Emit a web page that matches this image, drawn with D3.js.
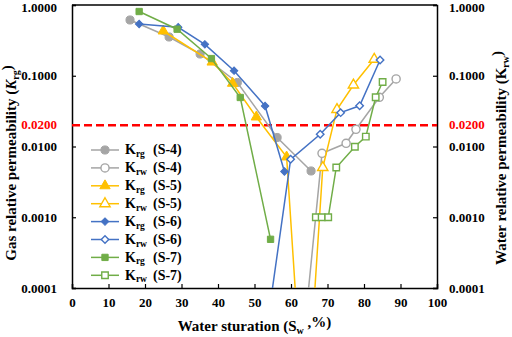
<!DOCTYPE html>
<html>
<head>
<meta charset="utf-8">
<script src="https://cdn.jsdelivr.net/npm/d3@7"></script>
<style>
  body { margin: 0; background: #fff; }
  svg text { font-family: "Liberation Serif", "Times New Roman", serif !important; font-weight: bold; }
</style>
</head>
<body>
<div id="chart"></div>
<script>
// 数据
const samples = ['S-4', 'S-5', 'S-6', 'S-7'];
const colors = ['#A5A5A5', '#FFC000', '#4472C4', '#70AD47'];
const markers = ['circle', 'triangle', 'diamond', 'square'];

// Krg 各样品: [Sw, Krg]
const krgS4 = [[15.9, 0.614], [26.6, 0.353], [35.1, 0.203], [45.3, 0.0803], [56.2, 0.0134], [65.5, 0.00451]];
const krgS5 = [[25.0, 0.429], [38.4, 0.156], [44.0, 0.0782], [50.5, 0.0261], [58.8, 0.00711], [62.4, 0.00001]];
const krgS6 = [[18.4, 0.539], [29.1, 0.484], [36.4, 0.278], [44.4, 0.118], [52.9, 0.0374], [58.2, 0.00443]];
const krgS7 = [[18.4, 0.809], [28.8, 0.455], [38.2, 0.175], [46.1, 0.0493], [54.4, 0.000488]];

// Krw 各样品: [Sw, Krw]
const krwS4 = [[62.9, 0.00001], [68.5, 0.00801], [75.1, 0.0111], [77.8, 0.0175], [84.2, 0.0496], [88.8, 0.0900]];
const krwS5 = [[65.3, 0.00001], [68.7, 0.00505], [72.6, 0.0333], [77.1, 0.0740], [82.8, 0.171]];
const krwS6 = [[52.2, 0.00001], [59.9, 0.00659], [68.0, 0.0149], [73.6, 0.0301], [78.8, 0.0376], [84.4, 0.167]];
const krwS7 = [[66.8, 0.001], [68.4, 0.001], [70.2, 0.001], [72.4, 0.00505], [77.5, 0.00993], [80.5, 0.0138], [83.2, 0.0496], [85.1, 0.0816]];

const krgData = [krgS4, krgS5, krgS6, krgS7];
const krwData = [krwS4, krwS5, krwS6, krwS7];

const xTicks = [0, 10, 20, 30, 40, 50, 60, 70, 80, 90, 100];
const yTicks = [1, 0.1, 0.01, 0.001, 0.0001];
const threshold = 0.02;

const width = 512, height = 337;
const margin = { top: 5, right: 75, bottom: 49, left: 72 };

const svg = d3.select('#chart').append('svg')
    .attr('width', width)
    .attr('height', height);

const x = d3.scaleLinear().domain([0, 100]).range([margin.left, width - margin.right]);
const y = d3.scaleLog().domain([0.0001, 1]).range([height - margin.bottom, margin.top]);

// 裁剪区域
svg.append('clipPath').attr('id', 'plot-clip')
    .append('rect')
    .attr('x', x(0)).attr('y', y(1))
    .attr('width', x(100) - x(0)).attr('height', y(0.0001) - y(1));

// 坐标轴（刻度朝内）
const fmt = d => d3.format('.4f')(d);
svg.append('g')
    .attr('transform', `translate(0,${y(0.0001)})`)
    .call(d3.axisBottom(x).tickValues(xTicks).tickSize(-4).tickPadding(8))
    .call(g => g.selectAll('text').attr('font-size', 13).attr('fill', '#000').attr('dy', '0.85em'));

svg.append('g')
    .attr('transform', `translate(${x(0)},0)`)
    .call(d3.axisLeft(y).tickValues(yTicks).tickFormat(fmt).tickSize(-4).tickPadding(15))
    .call(g => g.selectAll('text').attr('font-size', 13).attr('fill', '#000'));

svg.append('g')
    .attr('transform', `translate(${x(100)},0)`)
    .call(d3.axisRight(y).tickValues(yTicks).tickFormat(fmt).tickSize(-4).tickPadding(12))
    .call(g => g.selectAll('text').attr('font-size', 13).attr('fill', '#000'));

// 顶部 1.0000 标签稍微下移，避免被裁切
svg.selectAll('.tick text').filter(d => d === 1).attr('dy', '0.5em');

svg.selectAll('.domain').attr('stroke', '#000').attr('stroke-width', 1.5);
svg.selectAll('.tick line').attr('stroke', '#000').attr('stroke-width', 1.2);

// 上边框
svg.append('line')
    .attr('x1', x(0)).attr('x2', x(100))
    .attr('y1', y(1)).attr('y2', y(1))
    .attr('stroke', '#000').attr('stroke-width', 1.5);

// 0.02 阈值线及标签
svg.append('line')
    .attr('x1', x(0)).attr('x2', x(100))
    .attr('y1', y(threshold)).attr('y2', y(threshold))
    .attr('stroke', '#FF0000').attr('stroke-width', 2.5)
    .attr('stroke-dasharray', '8,4');

svg.append('text')
    .attr('x', x(0) - 15).attr('y', y(threshold)).attr('dy', '0.32em')
    .attr('text-anchor', 'end').attr('font-size', 13).attr('fill', '#FF0000')
    .text(fmt(threshold));
svg.append('text')
    .attr('x', x(100) + 12).attr('y', y(threshold)).attr('dy', '0.32em')
    .attr('font-size', 13).attr('fill', '#FF0000')
    .text(fmt(threshold));

// 标记符号（菱形用旋转的正方形）
function symbolFor(type, open) {
    const sym = { circle: d3.symbolCircle, triangle: d3.symbolTriangle, diamond: d3.symbolSquare, square: d3.symbolSquare }[type];
    const size = { circle: 52, triangle: 46, diamond: 28, square: open ? 42 : 40 }[type];
    return d3.symbol().type(sym).size(size)();
}
const markerRotate = type => type === 'diamond' ? ' rotate(45)' : '';

const line = d3.line().x(d => x(d[0])).y(d => y(d[1]));
const plot = svg.append('g').attr('clip-path', 'url(#plot-clip)');

function drawSeries(data, i, open) {
    const g = plot.append('g');
    g.append('path')
        .datum(data)
        .attr('d', line)
        .attr('fill', 'none')
        .attr('stroke', colors[i])
        .attr('stroke-width', 1.5);
    g.selectAll('path.pt')
        .data(data)
        .join('path')
        .attr('class', 'pt')
        .attr('transform', d => `translate(${x(d[0])},${y(d[1])})` + markerRotate(markers[i]))
        .attr('d', symbolFor(markers[i], open))
        .attr('fill', open ? '#fff' : colors[i])
        .attr('stroke', colors[i])
        .attr('stroke-width', open ? 1.4 : 1);
}

krgData.forEach((d, i) => drawSeries(d, i, false));
krwData.forEach((d, i) => drawSeries(d, i, true));

// 图例
const legend = svg.append('g');
let row = 0;
samples.forEach((s, i) => {
    ['rg', 'rw'].forEach(kind => {
        const ly = 150 + row * 17.9;
        const open = kind === 'rw';
        legend.append('line')
            .attr('x1', 91).attr('x2', 119).attr('y1', ly).attr('y2', ly)
            .attr('stroke', colors[i]).attr('stroke-width', 1.5);
        legend.append('path')
            .attr('transform', `translate(105,${ly})` + markerRotate(markers[i]))
            .attr('d', symbolFor(markers[i], open))
            .attr('fill', open ? '#fff' : colors[i])
            .attr('stroke', colors[i])
            .attr('stroke-width', open ? 1.4 : 1);
        const t = legend.append('text')
            .attr('x', 125).attr('y', ly).attr('dy', '0.3em')
            .attr('font-size', 14);
        t.append('tspan').text('K');
        t.append('tspan').attr('font-size', 9.5).attr('dy', '0.3em').text(kind);
        legend.append('text')
            .attr('x', 153).attr('y', ly).attr('dy', '0.3em')
            .attr('font-size', 14)
            .text(`(${s})`);
        row++;
    });
});

// 坐标轴标题
const xTitle = svg.append('text')
    .attr('x', (x(0) + x(100)) / 2).attr('y', 331)
    .attr('text-anchor', 'middle').attr('font-size', 15);
xTitle.append('tspan').text('Water sturation (S');
xTitle.append('tspan').attr('font-size', 10).attr('dy', '0.3em').text('w');
xTitle.append('tspan').attr('dy', '-0.45em').text(' ,%)');

const yTitleL = svg.append('text')
    .attr('transform', `translate(16,163) rotate(-90)`)
    .attr('text-anchor', 'middle').attr('font-size', 15);
yTitleL.append('tspan').text('Gas relative permeability (');
yTitleL.append('tspan').attr('font-style', 'italic').text('K');
yTitleL.append('tspan').attr('font-size', 10).attr('dy', '0.3em').text('rg');
yTitleL.append('tspan').attr('dy', '-0.45em').text(')');

const yTitleR = svg.append('text')
    .attr('transform', `translate(506,158) rotate(-90)`)
    .attr('text-anchor', 'middle').attr('font-size', 15);
yTitleR.append('tspan').text('Water relative permeability  (K');
yTitleR.append('tspan').attr('font-size', 10).attr('dy', '0.3em').text('rw');
yTitleR.append('tspan').attr('dy', '-0.45em').text(')');
</script>
</body>
</html>
